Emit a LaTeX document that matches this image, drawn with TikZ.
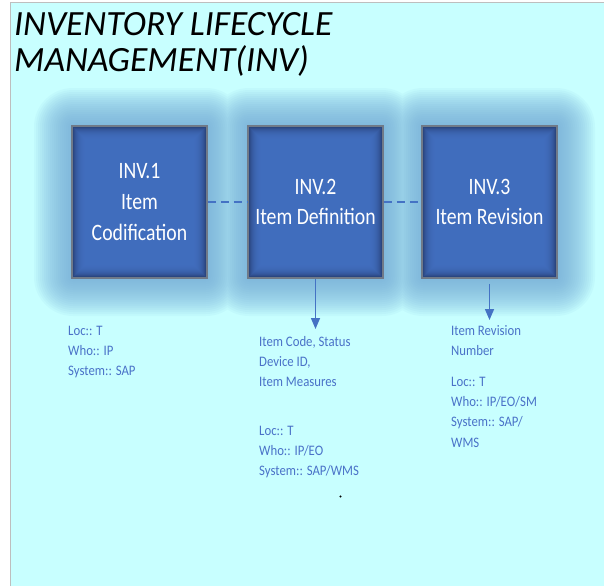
\documentclass[tikz,border=0pt]{standalone}
\usepackage{fontspec}
\setmainfont{Carlito}
\newfontfamily\titlefont{Carlito}
\newfontfamily\boxfont[FakeStretch=0.84]{Carlito}
\newfontfamily\notefont[FakeStretch=0.88]{Carlito}
\usetikzlibrary{arrows.meta}

\definecolor{pagebg}{RGB}{200,255,255}
\definecolor{pageedge}{RGB}{190,190,190}
\definecolor{glowc}{RGB}{109,166,213}
\definecolor{boxblue}{RGB}{68,114,196}
\definecolor{boxdark}{RGB}{36,60,112}
\definecolor{boxedge}{RGB}{112,122,136}
\definecolor{linkblue}{RGB}{68,114,196}
\definecolor{notetext}{RGB}{74,114,200}

\tikzset{
  stagebox/.style={
    minimum width=135pt, minimum height=152pt, inner sep=0pt,
    fill=boxdark, draw=boxedge, line width=1.6pt,
    text=white, align=center,
    font=\boxfont\fontsize{23.5}{30.7}\selectfont,
    path picture={
      \foreach \k in {1,...,13}{
        \fill[boxblue, fill opacity=0.2]
          ([shift={(\k pt,-\k pt)}]path picture bounding box.north west)
          rectangle ([shift={(-\k pt,\k pt)}]path picture bounding box.south east);
      }
    }
  },
  titleline/.style={anchor=base west, inner sep=0pt,
    font=\titlefont\itshape\fontsize{35.5}{35.5}\selectfont},
  noteline/.style={anchor=base west, inner sep=0pt, text=notetext,
    font=\notefont\fontsize{14.5}{20}\selectfont},
  dashlink/.style={draw=linkblue, line width=1.5pt, dash pattern=on 8pt off 5pt},
  downlink/.style={draw=linkblue, line width=1.5pt,
    -{Triangle[width=9pt,length=11pt]}}
}

\begin{document}
\begin{tikzpicture}[x=1pt, y=-1pt]
\useasboundingbox (0,0) rectangle (604,586);

% page
\fill[pagebg] (11,3) rectangle (604,586);
\draw[pageedge, line width=1.5pt] (10.5,586) -- (10.5,2.5) -- (604,2.5);

% title
\node[titleline] (title1) at (14,36) {INVENTORY LIFECYCLE};
\node[titleline] (title2) at (14,71) {MANAGEMENT(INV)};

% soft halo behind the three stages
\foreach \d in {38,36,...,0}{
  \fill[glowc, fill opacity=0.065, rounded corners=\d pt+1pt]
    (72-\d,126-\d) rectangle (207+\d,278+\d)
    (248-\d,126-\d) rectangle (383+\d,278+\d)
    (422-\d,126-\d) rectangle (557+\d,278+\d);
}

% stages
\node[stagebox] (b1) at (139.5,202) {INV.1\\Item\\Codification};
\node[stagebox] (b2) at (315.5,202) {INV.2\\Item Definition};
\node[stagebox] (b3) at (489.5,202) {INV.3\\Item Revision};

% links between stages
\draw[dashlink] (b1.east) -- (b2.west);
\draw[dashlink] (b2.east) -- (b3.west);

% outputs
\coordinate (out2) at (315.5,329);
\coordinate (out3) at (489.5,320);
\draw[downlink] (b2.south) -- (out2);
\draw[downlink] ([yshift=-5pt]b3.south) -- (out3);

% notes under INV.1
\node[noteline] (n1a) at (68,335) {Loc:: T};
\node[noteline] (n1b) at (68,355) {Who:: IP};
\node[noteline] (n1c) at (68,375) {System:: SAP};

% notes under INV.2
\node[noteline] (n2a) at (259,346) {Item Code, Status};
\node[noteline] (n2b) at (259,366) {Device ID,};
\node[noteline] (n2c) at (259,386) {Item Measures};
\node[noteline] (n2d) at (259,435) {Loc:: T};
\node[noteline] (n2e) at (259,455) {Who:: IP/EO};
\node[noteline] (n2f) at (259,475) {System:: SAP/WMS};

% notes under INV.3
\node[noteline] (n3a) at (451,335) {Item Revision};
\node[noteline] (n3b) at (451,355) {Number};
\node[noteline] (n3c) at (451,386) {Loc:: T};
\node[noteline] (n3d) at (451,406) {Who:: IP/EO/SM};
\node[noteline] (n3e) at (451,426) {System:: SAP/};
\node[noteline] (n3f) at (451,447) {WMS};

% stray full stop
\fill[black] (340.5,496.5) circle (1.1pt);
\end{tikzpicture}
\end{document}
